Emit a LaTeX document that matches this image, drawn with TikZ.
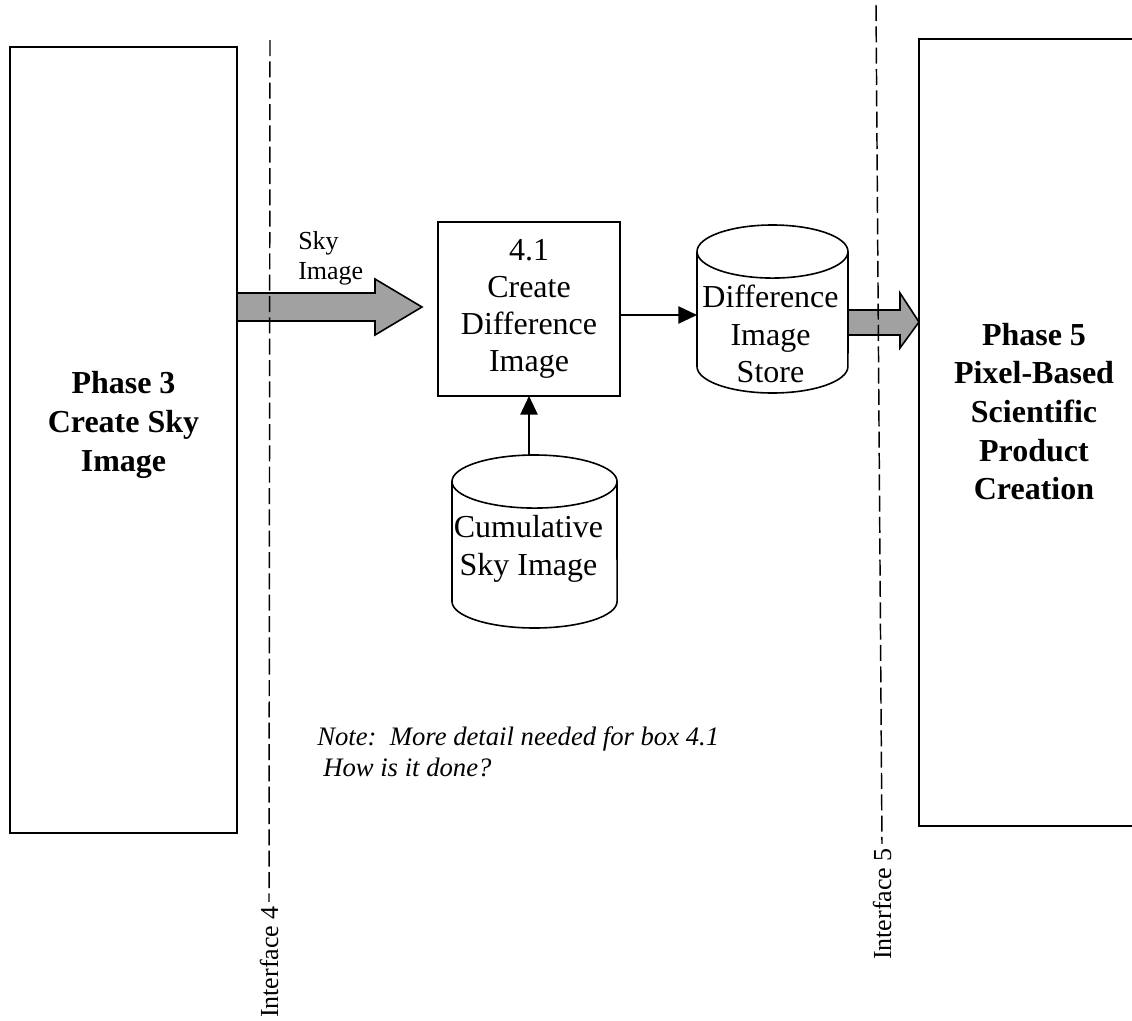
\documentclass[tikz,border=0pt]{standalone}
\usepackage{fontspec}
\setmainfont{Liberation Serif}
\usetikzlibrary{arrows.meta, positioning, calc}

\begin{document}
\begin{tikzpicture}[
    x=0.75pt, y=-0.75pt,
    phase/.style={
        rectangle,
        draw,
        line width=1.2pt,
        outer sep=0pt
    },
    phasetext/.style={
        align=center,
        inner sep=0pt,
        font=\fontsize{24}{29}\selectfont\bfseries
    },
    process/.style={
        rectangle,
        draw,
        line width=1.2pt,
        outer sep=0pt,
        inner sep=0pt,
        minimum width=136.5pt,
        minimum height=130.5pt,
        align=center,
        font=\fontsize{24}{27.8}\selectfont
    },
    store/.style={
        rectangle,
        outer sep=0pt,
        inner sep=0pt
    },
    drum/.style={
        draw,
        line width=1.2pt
    },
    storetext/.style={
        align=center,
        inner sep=0pt,
        font=\fontsize{24}{28.3}\selectfont
    },
    flow/.style={
        draw,
        line width=1.2pt,
        -{Triangle[length=14pt, width=13pt]}
    },
    bigflow/.style={
        draw,
        line width=1.2pt,
        fill=black!37,
        line join=miter
    },
    iface/.style={
        draw,
        line width=1.1pt,
        dash pattern=on 12pt off 4pt
    },
    ifacelabel/.style={
        rotate=90,
        inner sep=3pt,
        font=\fontsize{19.5}{22}\selectfont
    },
    smalltext/.style={
        align=left,
        inner sep=0pt,
        font=\fontsize{19.5}{22.5}\selectfont
    },
    notetext/.style={
        align=left,
        inner sep=0pt,
        font=\fontsize{20}{23.3}\selectfont\itshape
    }
]
    \path[use as bounding box, clip] (0,0) rectangle (1132,1021);

    % phases either side
    \node [phase, minimum width=170.25pt, minimum height=589.5pt] (p3) at (123.5,440) {};
    \node [phasetext] (p3text) at ($(p3.center)+(0,-15)$) {Phase 3\\Create Sky\\Image};

    \node [phase, minimum width=172.5pt, minimum height=590.25pt] (p5) at (1034,432.5) {};
    \node [phasetext] (p5text) at ($(p5.center)+(0,-21)$) {Phase 5\\Pixel-Based\\Scientific\\Product\\Creation};

    % process
    \node [process] (p41) at (529,309) {4.1\\Create\\Difference\\Image};

    % difference image store
    \node [store, minimum width=113.25pt, minimum height=126pt] (dis) at (772.5,309) {};
    \draw [drum] ([yshift=-19.9pt]dis.north west) -- ([yshift=19.9pt]dis.south west)
        arc [start angle=180, end angle=360, x radius=56.6pt, y radius=19.9pt]
        -- ([yshift=-19.9pt]dis.north east);
    \draw [drum] ([yshift=-19.9pt]dis.north) ellipse [x radius=56.6pt, y radius=19.9pt];
    \node [storetext] (distext) at ($(dis.center)+(-2,25)$) {Difference\\Image\\Store};

    % cumulative sky image
    \node [store, minimum width=123.75pt, minimum height=129.75pt] (csi) at (534.5,541.5) {};
    \draw [drum] ([yshift=-19.9pt]csi.north west) -- ([yshift=19.9pt]csi.south west)
        arc [start angle=180, end angle=360, x radius=61.9pt, y radius=19.9pt]
        -- ([yshift=-19.9pt]csi.north east);
    \draw [drum] ([yshift=-19.9pt]csi.north) ellipse [x radius=61.9pt, y radius=19.9pt];
    \node [storetext] (csitext) at ($(csi.center)+(-6,7)$) {Cumulative\\Sky Image};

    % flows
    \node [smalltext, anchor=north west] (skylbl) at (298,231) {Sky\\Image};
    \draw [bigflow] (p3.east |- 0,293) -- ++(138,0) -- ++(0,-14) -- ++(47,28)
        -- ++(-47,28) -- ++(0,-14) -- ++(-138,0) -- cycle;
    \draw [bigflow] (dis.east |- 0,310) -- (900,310) -- (900,293) -- (p5.west |- 0,322)
        -- (900,348) -- (900,335) -- (dis.east |- 0,335) -- cycle;

    \draw [flow] ([yshift=-4.5pt]p41.east) -- ([yshift=-4.5pt]p41.east -| dis.west);
    \draw [flow] (p41.south |- csi.north) -- (p41.south);

    % interfaces
    \node [ifacelabel] (if4) at (269,962) {Interface 4};
    \coordinate (if4top) at (270,40);
    \draw [iface] (if4top) -- (if4.east);

    \node [ifacelabel] (if5) at (882,904) {Interface 5};
    \coordinate (if5top) at (876,5);
    \draw [iface] (if5top) -- (if5.east);

    \node [notetext, anchor=north west] (note) at (317,726)
        {Note:\ \ More detail needed for box 4.1\\\hspace*{4.5pt}How is it done?};

\end{tikzpicture}
\end{document}
